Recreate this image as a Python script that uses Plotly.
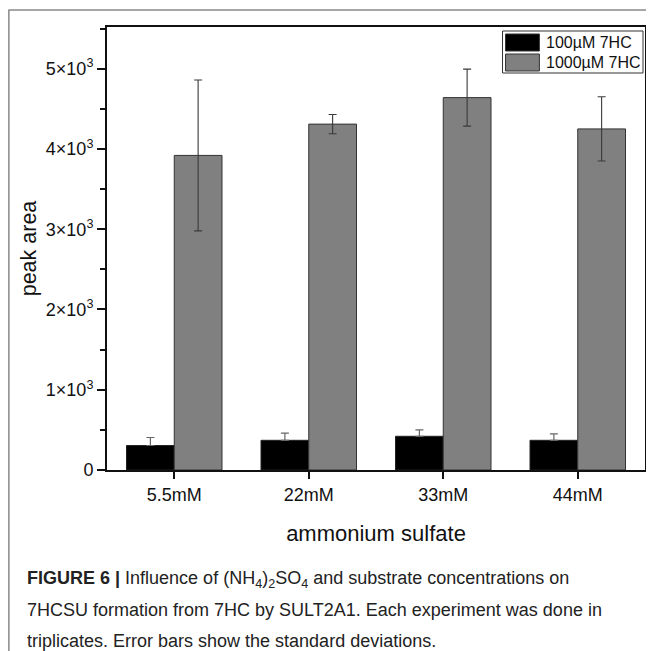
import plotly.graph_objects as go

categories = ["5.5mM", "22mM", "33mM", "44mM"]
low_vals = [305, 370, 420, 370]
low_sd = [100, 90, 80, 80]
high_vals = [3920, 4310, 4640, 4250]
high_sd = [940, 120, 355, 400]
series_names = ["100µM 7HC", "1000µM 7HC"]
ytick_vals = [0, 1000, 2000, 3000, 4000, 5000]
ytick_text = ["0", "1×10<sup>3</sup>", "2×10<sup>3</sup>", "3×10<sup>3</sup>", "4×10<sup>3</sup>", "5×10<sup>3</sup>"]

# The page body adds an 8px margin; work in screen pixels and subtract it.
OFF = 8
W, H = 654 - OFF, 651 - OFF
L, R, T, B = 107 - OFF, 647 - OFF, 27 - OFF, 470 - OFF  # plot area in figure px


def px(x):
    return (x - OFF - L) / (R - L)


def py(y):
    return (B - (y - OFF)) / (B - T)


FONT = "Liberation Sans, Arial, sans-serif"
INK = "#111111"

fig = go.Figure()
fig.add_trace(go.Bar(
    x=categories, y=low_vals, name=series_names[0], showlegend=False,
    marker=dict(color="#000000", line=dict(color="#222222", width=1)),
    error_y=dict(type="data", symmetric=False, array=low_sd, arrayminus=[0] * len(low_sd),
                 visible=True, color="#666666", thickness=1.2, width=4),
))
fig.add_trace(go.Bar(
    x=categories, y=high_vals, name=series_names[1], showlegend=False,
    marker=dict(color="#808080", line=dict(color="#333333", width=1)),
    error_y=dict(type="data", array=high_sd, visible=True, color="#3a3a3a", thickness=1.1, width=4),
))

fig.update_layout(
    width=W, height=H,
    margin=dict(l=L, r=W - R, t=T, b=H - B),
    paper_bgcolor="white", plot_bgcolor="white",
    barmode="group", bargap=0.29, bargroupgap=0,
    font=dict(family=FONT, color=INK),
    showlegend=False,
)
fig.update_xaxes(
    showline=True, linecolor=INK, linewidth=2, mirror=True,
    ticks="outside", ticklen=7, tickwidth=1.5, tickcolor=INK,
    tickfont=dict(size=18, family=FONT, color=INK),
    title=dict(text="ammonium sulfate", font=dict(size=22, family=FONT, color=INK), standoff=22),
    showgrid=False,
)
fig.update_yaxes(
    range=[0, 5520], showline=True, linecolor=INK, linewidth=2, mirror=True,
    ticks="outside", ticklen=8, tickwidth=1.5, tickcolor=INK,
    tickvals=ytick_vals, ticktext=ytick_text,
    tickfont=dict(size=18, family=FONT, color=INK),
    minor=dict(dtick=500, ticks="outside", ticklen=5, tickwidth=1.5, tickcolor=INK, showgrid=False),
    title=dict(text="peak area", font=dict(size=21.5, family=FONT, color=INK), standoff=3),
    showgrid=False, zeroline=False,
)

shapes = []
# card border (top and left)
shapes.append(dict(type="line", xref="paper", yref="paper", x0=px(8), x1=px(660), y0=py(10), y1=py(10),
                   line=dict(color="#888888", width=1.5)))
shapes.append(dict(type="line", xref="paper", yref="paper", x0=px(8.5), x1=px(8.5), y0=py(10), y1=py(660),
                   line=dict(color="#888888", width=1.5)))
# legend box
shapes.append(dict(type="rect", xref="paper", yref="paper", x0=px(504), x1=px(645), y0=py(73), y1=py(31),
                   line=dict(color="#333333", width=1), fillcolor="white"))
shapes.append(dict(type="rect", xref="paper", yref="paper", x0=px(507), x1=px(541), y0=py(51), y1=py(34),
                   line=dict(color="#333333", width=1), fillcolor="#000000"))
shapes.append(dict(type="rect", xref="paper", yref="paper", x0=px(507), x1=px(541), y0=py(71), y1=py(54),
                   line=dict(color="#333333", width=1), fillcolor="#808080"))
fig.update_layout(shapes=shapes)

annotations = [
    dict(text=series_names[0], x=px(546), y=py(42), xref="paper", yref="paper", xanchor="left", yanchor="middle",
         showarrow=False, font=dict(size=16, family=FONT, color=INK)),
    dict(text=series_names[1], x=px(546), y=py(62), xref="paper", yref="paper", xanchor="left", yanchor="middle",
         showarrow=False, font=dict(size=16, family=FONT, color=INK)),
]
caption_lines = [
    "<b>FIGURE 6 |</b> Influence of (NH<sub>4</sub>)<sub>2</sub>SO<sub>4</sub> and substrate concentrations on",
    "7HCSU formation from 7HC by SULT2A1. Each experiment was done in",
    "triplicates. Error bars show the standard deviations.",
]
for i, line in enumerate(caption_lines):
    annotations.append(dict(text=line, x=px(25), y=py(579 + 31 * i), xref="paper", yref="paper",
                            xanchor="left", yanchor="middle", showarrow=False, align="left",
                            font=dict(size=18, family=FONT, color="#222222")))
fig.update_layout(annotations=annotations)

fig.write_html("out.html")
